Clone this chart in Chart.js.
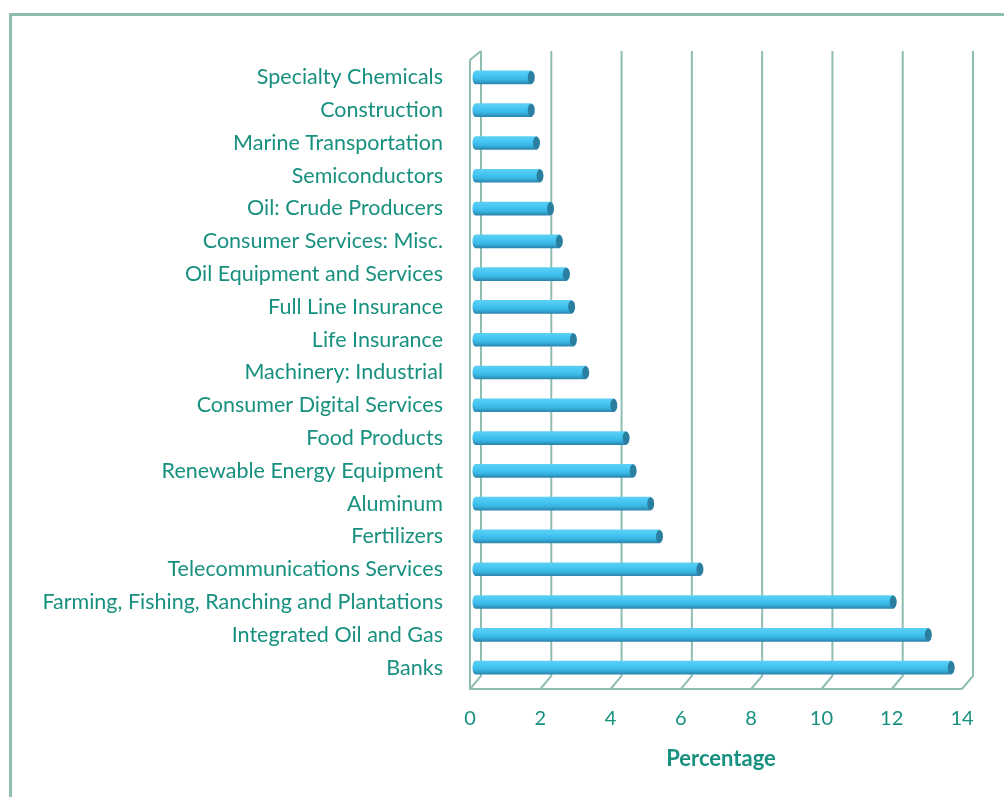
<!DOCTYPE html>
<html>
<head>
<meta charset="utf-8">
<script src="https://cdn.jsdelivr.net/npm/chart.js@4/dist/chart.umd.min.js"></script>
<style>
  html, body { margin: 0; padding: 0; background: #fff; }
  #frame {
    position: absolute; left: 9px; top: 13px; width: 1100px; height: 900px;
    border-top: 3px solid #8fbdb2; border-left: 3px solid #8fbdb2;
  }
  #wrap { position: absolute; left: 0; top: 0; width: 1004px; height: 797px; }
</style>
</head>
<body>
<div id="frame"></div>
<div id="wrap"><canvas id="bar-chart"></canvas></div>
<script>
const sectors = [
  "Specialty Chemicals",
  "Construction",
  "Marine Transportation",
  "Semiconductors",
  "Oil: Crude Producers",
  "Consumer Services: Misc.",
  "Oil Equipment and Services",
  "Full Line Insurance",
  "Life Insurance",
  "Machinery: Industrial",
  "Consumer Digital Services",
  "Food Products",
  "Renewable Energy Equipment",
  "Aluminum",
  "Fertilizers",
  "Telecommunications Services",
  "Farming, Fishing, Ranching and Plantations",
  "Integrated Oil and Gas",
  "Banks",
];
const percentages = [1.6, 1.6, 1.75, 1.85, 2.15, 2.4, 2.6, 2.75, 2.8, 3.15, 3.95, 4.3, 4.5, 5.0, 5.25, 6.4, 11.9, 12.9, 13.55];
const xTicks = [0, 2, 4, 6, 8, 10, 12, 14];

const teal = "#17907f";
const gridColor = "#8fbdb2";
// back wall and front edge offsets around the plane of the bars
const back = { dx: 6, top: -10, bottom: -8 };
const front = { dx: -5, top: -1, bottom: 5 };

const frame3d = {
  id: "frame3d",
  beforeDatasetsDraw(chart) {
    const { ctx, chartArea, scales } = chart;
    const x = scales.x;
    const top = chartArea.top, bottom = chartArea.bottom;
    ctx.save();
    ctx.strokeStyle = gridColor;
    ctx.lineWidth = 2;
    ctx.beginPath();
    xTicks.forEach((v) => {
      const px = x.getPixelForValue(v);
      ctx.moveTo(px + back.dx, top + back.top);
      ctx.lineTo(px + back.dx, bottom + back.bottom);
      ctx.lineTo(px + front.dx, bottom + front.bottom);
    });
    const x0 = x.getPixelForValue(0);
    const x1 = x.getPixelForValue(14);
    ctx.moveTo(x0 + back.dx, top + back.top);
    ctx.lineTo(x0 + front.dx, top + front.top);
    ctx.lineTo(x0 + front.dx, bottom + front.bottom);
    ctx.lineTo(x1 + front.dx, bottom + front.bottom);
    ctx.stroke();
    ctx.restore();
  },
  afterDatasetsDraw(chart) {
    const { ctx } = chart;
    const meta = chart.getDatasetMeta(0);
    ctx.save();
    meta.data.forEach((bar) => {
      const h = bar.height;
      ctx.beginPath();
      ctx.ellipse(bar.x, bar.y, 3.5, h / 2, 0, 0, Math.PI * 2);
      ctx.fillStyle = "#2a7fa1";
      ctx.fill();
      ctx.beginPath();
      ctx.ellipse(bar.base, bar.y, 2.5, h / 2, 0, Math.PI / 2, Math.PI * 1.5);
      const g = ctx.createLinearGradient(0, bar.y - h / 2, 0, bar.y + h / 2);
      g.addColorStop(0, "#5ccff5");
      g.addColorStop(0.5, "#42c2f0");
      g.addColorStop(1, "#2b86ad");
      ctx.fillStyle = g;
      ctx.fill();
    });
    ctx.restore();
  },
};

new Chart(document.getElementById("bar-chart"), {
  type: "bar",
  data: {
    labels: sectors,
    datasets: [
      {
        data: percentages,
        barThickness: 13,
        backgroundColor: (c) => {
          const chart = c.chart;
          if (!chart.chartArea || !chart.scales.y) return "#42c2f0";
          const y = chart.scales.y.getPixelForValue(c.dataIndex);
          const g = chart.ctx.createLinearGradient(0, y - 6.5, 0, y + 6.5);
          g.addColorStop(0, "#5ccff5");
          g.addColorStop(0.35, "#47c7f3");
          g.addColorStop(0.7, "#38b5e3");
          g.addColorStop(1, "#2b86ad");
          return g;
        },
        borderWidth: 0,
      },
    ],
  },
  plugins: [frame3d],
  options: {
    indexAxis: "y",
    responsive: true,
    maintainAspectRatio: false,
    animation: false,
    layout: { padding: { top: 61, right: 37, bottom: 25, left: 0 } },
    scales: {
      x: {
        min: 0,
        max: 14,
        afterFit: (scale) => {
          scale.height = 88;
        },
        ticks: {
          stepSize: 2,
          padding: 15,
          labelOffset: -5,
          color: teal,
          font: { family: "Lato", size: 20 },
        },
        grid: { display: false },
        border: { display: false },
        title: {
          display: true,
          text: "Percentage",
          color: teal,
          font: { family: "Lato", size: 22, weight: "bold" },
          padding: { top: 10, bottom: 0 },
        },
      },
      y: {
        afterFit: (scale) => {
          scale.width = 475;
        },
        ticks: {
          padding: 24,
          color: teal,
          font: { family: "Lato", size: 21.5 },
        },
        grid: { display: false },
        border: { display: false },
      },
    },
    plugins: {
      legend: { display: false },
      tooltip: { enabled: false },
    },
  },
});
</script>
</body>
</html>
